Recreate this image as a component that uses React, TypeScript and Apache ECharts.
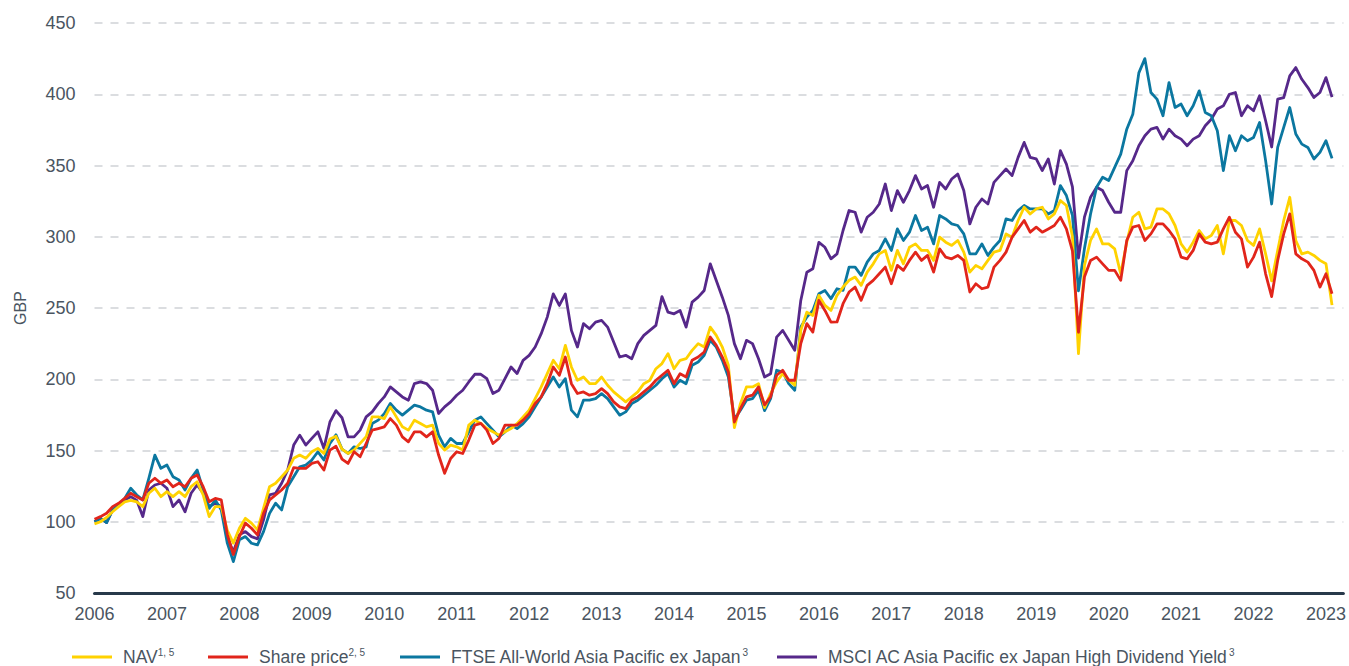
import React, { useEffect, useRef } from 'react';
import * as echarts from 'echarts';

// Monthly observations, first point at the start of 2006
const startYear = 2006;

const seriesNames = [
  'NAV',
  'Share price',
  'FTSE All-World Asia Pacific ex Japan',
  'MSCI AC Asia Pacific ex Japan High Dividend Yield',
];
const seriesNotes = ['1, 5', '2, 5', '3', '3'];

const nav = [
  98.5, 100, 103, 107, 110.6, 114, 115, 114, 110.6, 120, 123.5, 117.6,
  121.1, 117.6, 121.1, 117.6, 124.6, 128.1, 118.8, 103.6, 110.6, 110.6, 94, 85,
  95.4, 102.4, 99, 94.3, 109.4, 124.6, 127, 131.6, 136.3, 144.5, 146.8, 144.5,
  149.1, 151.5, 147.9, 158, 160, 151, 147.9, 150.3, 155, 159.6, 173.6, 173.6,
  172.4, 180.6, 173.6, 166.6, 164.3, 171.3, 169, 166.6, 167.8, 155, 150.3, 153.8,
  152.6, 150.3, 167.8, 171.3, 169, 165.4, 163.1, 160.8, 163.1, 165.4, 168.9, 173.6,
  178.3, 186.4, 194.6, 204, 213.3, 207.4, 223.8, 208.6, 199.3, 201.6, 197, 196.9,
  201.6, 195.8, 191.1, 187.6, 184.1, 187.6, 191.1, 196.9, 199.3, 207.4, 211, 218,
  207.4, 213.3, 214.4, 220.3, 225, 222.6, 236.6, 230.8, 222.6, 209.8, 166, 182.9,
  194.6, 194.6, 196.9, 180, 189.9, 198.1, 203.9, 199.3, 195.8, 234.3, 247.1, 244.8,
  258.8, 251.8, 248.3, 258.9, 264.7, 269.4, 271.7, 265.9, 275.2, 281, 288, 290.4,
  276.4, 290.4, 281, 292.7, 295, 290.4, 290.4, 283.4, 299.7, 296.2, 293.9, 297.4,
  289.2, 275.2, 279.9, 277.5, 283.4, 289.2, 290.4, 302, 299.7, 311.4, 320.7, 316,
  319.5, 320.7, 312.5, 316, 325.4, 321.9, 300, 218, 280, 297.4, 305.5, 295,
  295, 291.5, 274, 296.2, 313.7, 317.2, 305.5, 306.7, 319.5, 319.5, 316, 307.9,
  295, 289.2, 296.2, 304.4, 298.5, 300.9, 307.9, 288, 311.4, 311.4, 307.9, 297.4,
  293.9, 305.5, 288, 269, 290.4, 311.4, 327.7, 297.4, 288, 289.2, 286.9, 283.4,
  281, 252,
];

const sharePrice = [
  101.7, 103.6, 106, 110.6, 113, 116.4, 120, 117.6, 115.3, 127, 130.5, 127,
  129.3, 124.6, 127, 124.6, 130.5, 132.8, 124.6, 114.1, 116.4, 115.3, 91, 77,
  89.6, 99, 95.4, 90.8, 105.9, 115.3, 118.8, 122.3, 127, 138, 137.5, 137.5,
  140.9, 142.1, 136.3, 150.3, 153, 144, 140.9, 149.1, 145.6, 154.9, 164.3, 165.4,
  166.6, 172.4, 167.8, 159.6, 156.1, 163.1, 163.1, 159.6, 163.1, 146.8, 134, 144.4,
  149.1, 147.9, 157.3, 167.8, 169, 164.3, 154.9, 158.4, 167.8, 167.8, 167.8, 171.3,
  175.9, 183, 187.6, 196.9, 208.6, 202.8, 215.6, 196.9, 190, 191.1, 188.8, 189.9,
  193.4, 189.9, 184.1, 180.6, 179.4, 185.3, 187.6, 191.1, 194.6, 199.3, 202.8, 206.3,
  196.9, 203.9, 201.6, 213.3, 215.6, 219.1, 229.6, 223.8, 215.6, 205.1, 170, 179.4,
  187.6, 188.8, 194.6, 182, 187.6, 202.8, 206.3, 199.3, 199.3, 225, 239, 233.1,
  255.3, 248.3, 240.1, 240.2, 253, 261.2, 264.7, 255.4, 265.9, 269.4, 274, 278.7,
  267, 279.9, 276.4, 283.4, 289.2, 283.4, 286.9, 275.2, 291.5, 285.7, 284.5, 286.9,
  283.4, 261.2, 267, 263.5, 264.7, 278.7, 283.4, 289.2, 299.7, 305.5, 311.4, 303.2,
  306.7, 303.2, 305.5, 307.9, 313.7, 305.5, 290, 233, 272, 283.4, 285.7, 281,
  276.4, 276.4, 269.4, 297.4, 306.7, 307.9, 297.4, 302, 309, 309, 304.4, 298.5,
  285.7, 284.5, 290.4, 302, 296.2, 295, 296.2, 305.5, 313.7, 303.2, 298.5, 278.7,
  285.7, 296.2, 274, 258, 283.4, 302, 316, 288, 284.5, 282.2, 276.4, 264.7,
  274, 260,
];

const ftseApxJ = [
  100, 102.4, 99.4, 108.3, 111.8, 116.4, 123.5, 118.8, 115.3, 130.5, 146.8, 137.5,
  139.8, 131.6, 129.3, 122.3, 130.5, 136.3, 122.3, 109.4, 115.3, 108.3, 85, 72,
  87.3, 89.6, 84.9, 83.8, 93.1, 105.9, 113, 108.3, 124.6, 131.6, 138.6, 139.8,
  143.3, 149.1, 143.3, 155, 161, 151, 147.9, 152.6, 151.4, 152.6, 168.9, 171.3,
  175.9, 183, 178.3, 174.8, 178.3, 181.8, 180.6, 178.3, 177.1, 160.8, 152.6, 158.5,
  154.9, 154.9, 163.1, 171.3, 173.6, 168.9, 164.3, 159.6, 163.1, 167.8, 165.4, 168.9,
  173.6, 180.6, 187.6, 194.6, 201.6, 194.6, 200.4, 178.3, 173.6, 185.3, 185.3, 186.4,
  189.9, 186.4, 180.6, 174.8, 177.1, 182.9, 185.3, 188.8, 192.3, 195.8, 200.4, 203.9,
  194.6, 199.3, 196.9, 209.8, 212.1, 216.8, 227.3, 222.6, 213.3, 201.6, 172, 178.3,
  185.3, 186.4, 192.3, 178, 186.4, 206.3, 205.1, 196.9, 192.3, 236.6, 243.6, 248.3,
  260, 262.3, 256.5, 263.5, 262.4, 278.7, 278.7, 272.9, 282.2, 288, 290.4, 298.5,
  290.4, 305.5, 297.4, 303.2, 314.9, 304.4, 306.7, 295, 314.9, 312.5, 309, 307.9,
  302, 288, 288, 295, 286.9, 292.7, 297.4, 312.5, 311.4, 318.4, 321.9, 319.5,
  319.5, 319.5, 316, 318.4, 335.9, 328.9, 315, 262, 292, 316, 334.7, 341.7,
  339.4, 348.7, 358, 375.5, 386, 415, 425, 401.2, 396.6, 384.9, 408.2, 390.7,
  393.1, 384.9, 391.9, 402.4, 387.2, 384.9, 374.4, 346.4, 370.9, 360.4, 370.9, 367.4,
  369.7, 380.2, 353.4, 323, 362.7, 376.7, 390.7, 372.1, 365, 362.7, 354.6, 359.2,
  367.4, 355,
];

const msciHdy = [
  100, 102.4, 99.4, 108.3, 111.2, 115, 117.6, 115, 103.6, 122.3, 125.8, 127,
  123.5, 110.6, 115.3, 107, 120, 125.8, 120, 110.6, 113, 110.6, 89, 79,
  90.8, 93.1, 89.6, 88, 101.3, 118.8, 120, 127, 136.3, 153.8, 160.8, 153.8,
  158.5, 163.1, 151.5, 170, 178, 173, 159.6, 159.6, 164.3, 173.6, 177.1, 182.9,
  187.6, 194.6, 191.1, 187.6, 185.3, 197, 198.1, 197, 192.3, 176, 180.6, 184.1,
  188.8, 192.3, 198.1, 203.5, 203.5, 200.4, 190, 192.3, 200.4, 208.6, 204, 213.3,
  216.8, 222.6, 232, 243.6, 259.9, 251.8, 259.9, 234.3, 222.6, 239, 235.4, 240.1,
  241.3, 236.6, 226.1, 215.6, 216.8, 214.4, 225, 230.8, 234.3, 237.8, 258, 247.1,
  245.9, 248.3, 236.6, 254.1, 257.6, 262.3, 281, 269.3, 257.6, 244.8, 225, 214.4,
  227.3, 225, 214.4, 201.6, 203.9, 229.6, 234.3, 227.3, 220.3, 255.3, 275.1, 277.5,
  296.1, 292.6, 284.5, 288, 304.4, 318.4, 317.2, 303.2, 313.7, 317.2, 323, 337,
  318.4, 332.4, 324.2, 332.4, 342.9, 333.5, 335.9, 320.7, 338.2, 333.5, 340.5, 344,
  332.4, 309, 320.7, 326.5, 323, 338.2, 342.9, 347.5, 342.9, 355.7, 366.2, 355.7,
  354.6, 346.4, 354.6, 337, 360.4, 351, 335, 285, 314, 327.7, 334.7, 332.4,
  324.2, 317.2, 317.2, 346.4, 353.4, 363.9, 370.9, 375.5, 376.7, 368.5, 375.5, 370.9,
  368.5, 363.9, 368.5, 370.9, 377.9, 382.5, 389.6, 391.9, 400, 401.2, 384.9, 391.9,
  388.4, 398.9, 381.4, 363, 396.6, 397.7, 412.9, 418.7, 410.5, 404.7, 397.7, 401.2,
  411.7, 398,
];

const yMin = 50;
const yMax = 450;
const yStep = 50;
const xFirstYear = 2006;
const xLastLabelYear = 2023;

const colors = ['#FFD200', '#E1251B', '#0B77A0', '#56288A'];
const textColor = '#4a5561';
const fontFamily = "'Liberation Sans', Arial, Helvetica, sans-serif";

export default function App() {
  const ref = useRef<HTMLDivElement>(null);

  useEffect(() => {
    document.body.style.margin = '0';
    const chart = echarts.init(ref.current as HTMLDivElement, null, { renderer: 'svg' });
    const toPairs = (vals: number[]) => vals.map((v, i) => [startYear + i / 12, v]);
    const values = [nav, sharePrice, ftseApxJ, msciHdy];
    const legendLeft = [72, 208, 400, 777];

    const series = [3, 2, 0, 1].map((idx) => ({
      name: seriesNames[idx],
      type: 'line',
      data: toPairs(values[idx]),
      showSymbol: false,
      symbol: 'none',
      silent: true,
      lineStyle: { color: colors[idx], width: 2.8, join: 'round' },
      itemStyle: { color: colors[idx] },
    }));

    const legends = seriesNames.map((n, i) => ({
      data: [n],
      left: legendLeft[i],
      top: 647,
      icon: 'rect',
      itemWidth: 40,
      itemHeight: 3,
      selectedMode: false,
      padding: 0,
      formatter: (name: string) => `{a|${name}}{s|${seriesNotes[i]}}`,
      textStyle: {
        rich: {
          a: {
            fontSize: 17.5,
            color: textColor,
            fontFamily,
            padding: [0, 0, 0, 6],
            lineHeight: 20,
          },
          s: {
            fontSize: 10,
            color: textColor,
            fontFamily,
            verticalAlign: 'top',
            lineHeight: 10,
            padding: [0, 0, 0, 0],
          },
        },
      },
    }));

    chart.setOption({
      animation: false,
      backgroundColor: '#ffffff',
      textStyle: { fontFamily },
      grid: { left: 94.5, right: 4, top: 23, bottom: 73, containLabel: false },
      legend: legends,
      xAxis: {
        type: 'value',
        min: xFirstYear,
        max: 2023.24,
        interval: 1,
        axisLine: { show: true, lineStyle: { color: '#27394a', width: 3 } },
        axisTick: { show: false },
        splitLine: { show: false },
        axisLabel: {
          margin: 12,
          fontSize: 18,
          color: textColor,
          showMaxLabel: false,
          formatter: (v: number) =>
            Number.isInteger(v) && v <= xLastLabelYear ? String(v) : '',
        },
      },
      yAxis: {
        type: 'value',
        min: yMin,
        max: yMax,
        interval: yStep,
        name: 'GBP',
        nameLocation: 'middle',
        nameGap: 66,
        nameTextStyle: { fontSize: 16, color: textColor },
        axisLine: { show: false },
        axisTick: { show: false },
        axisLabel: { margin: 19, fontSize: 18, color: textColor },
        splitLine: {
          show: true,
          lineStyle: { color: '#cfd2d6', width: 1.6, type: [8, 8] },
        },
      },
      series,
    });

    return () => chart.dispose();
  }, []);

  return (
    <div
      ref={ref}
      style={{ position: 'fixed', left: 0, top: 0, width: 1349, height: 666 }}
    />
  );
}
